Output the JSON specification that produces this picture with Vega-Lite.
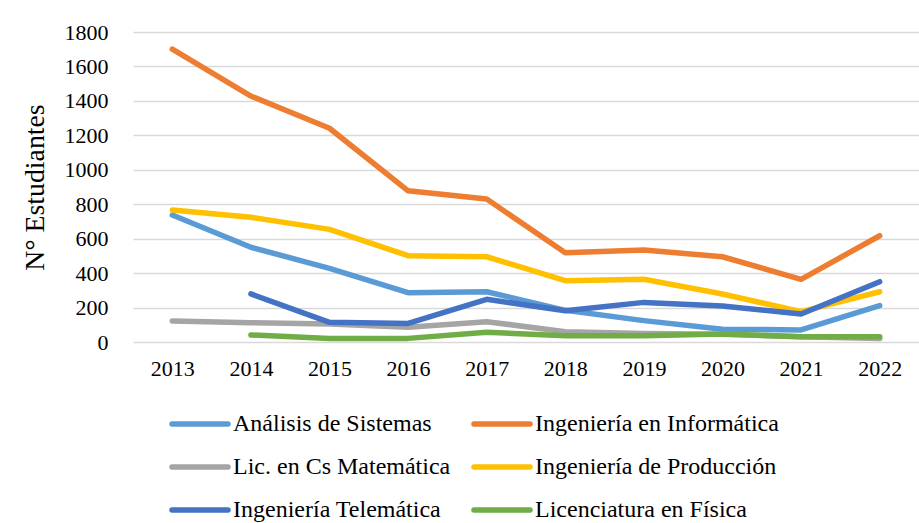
{
  "$schema": "https://vega.github.io/schema/vega-lite/v6.json",
  "autosize": {"type": "none"},
  "width": 786,
  "height": 310,
  "padding": {"left": 133, "top": 32, "right": 0, "bottom": 181},
  "background": "white",
  "config": {
    "font": "Liberation Serif",
    "view": {"stroke": null},
    "axis": {"labelFont": "Liberation Serif", "titleFont": "Liberation Serif", "labelColor": "#000", "titleColor": "#000"},
    "legend": {"labelFont": "Liberation Serif", "labelColor": "#000"}
  },
  "data": {
    "values": [
      {"year": "2013", "carrera": "Análisis de Sistemas", "n": 737},
      {"year": "2014", "carrera": "Análisis de Sistemas", "n": 550},
      {"year": "2015", "carrera": "Análisis de Sistemas", "n": 428},
      {"year": "2016", "carrera": "Análisis de Sistemas", "n": 286},
      {"year": "2017", "carrera": "Análisis de Sistemas", "n": 292},
      {"year": "2018", "carrera": "Análisis de Sistemas", "n": 184},
      {"year": "2019", "carrera": "Análisis de Sistemas", "n": 124},
      {"year": "2020", "carrera": "Análisis de Sistemas", "n": 74},
      {"year": "2021", "carrera": "Análisis de Sistemas", "n": 70},
      {"year": "2022", "carrera": "Análisis de Sistemas", "n": 211},
      {"year": "2013", "carrera": "Ingeniería en Informática", "n": 1700},
      {"year": "2014", "carrera": "Ingeniería en Informática", "n": 1428},
      {"year": "2015", "carrera": "Ingeniería en Informática", "n": 1241},
      {"year": "2016", "carrera": "Ingeniería en Informática", "n": 878},
      {"year": "2017", "carrera": "Ingeniería en Informática", "n": 830},
      {"year": "2018", "carrera": "Ingeniería en Informática", "n": 518},
      {"year": "2019", "carrera": "Ingeniería en Informática", "n": 534},
      {"year": "2020", "carrera": "Ingeniería en Informática", "n": 495},
      {"year": "2021", "carrera": "Ingeniería en Informática", "n": 364},
      {"year": "2022", "carrera": "Ingeniería en Informática", "n": 617},
      {"year": "2013", "carrera": "Lic. en Cs Matemática", "n": 122},
      {"year": "2014", "carrera": "Lic. en Cs Matemática", "n": 112},
      {"year": "2015", "carrera": "Lic. en Cs Matemática", "n": 104},
      {"year": "2016", "carrera": "Lic. en Cs Matemática", "n": 85},
      {"year": "2017", "carrera": "Lic. en Cs Matemática", "n": 118},
      {"year": "2018", "carrera": "Lic. en Cs Matemática", "n": 60},
      {"year": "2019", "carrera": "Lic. en Cs Matemática", "n": 50},
      {"year": "2020", "carrera": "Lic. en Cs Matemática", "n": 45},
      {"year": "2021", "carrera": "Lic. en Cs Matemática", "n": 31},
      {"year": "2022", "carrera": "Lic. en Cs Matemática", "n": 21},
      {"year": "2013", "carrera": "Ingeniería de Producción", "n": 766},
      {"year": "2014", "carrera": "Ingeniería de Producción", "n": 724},
      {"year": "2015", "carrera": "Ingeniería de Producción", "n": 654},
      {"year": "2016", "carrera": "Ingeniería de Producción", "n": 501},
      {"year": "2017", "carrera": "Ingeniería de Producción", "n": 495},
      {"year": "2018", "carrera": "Ingeniería de Producción", "n": 356},
      {"year": "2019", "carrera": "Ingeniería de Producción", "n": 364},
      {"year": "2020", "carrera": "Ingeniería de Producción", "n": 279},
      {"year": "2021", "carrera": "Ingeniería de Producción", "n": 176},
      {"year": "2022", "carrera": "Ingeniería de Producción", "n": 292},
      {"year": "2014", "carrera": "Ingeniería Telemática", "n": 279},
      {"year": "2015", "carrera": "Ingeniería Telemática", "n": 114},
      {"year": "2016", "carrera": "Ingeniería Telemática", "n": 108},
      {"year": "2017", "carrera": "Ingeniería Telemática", "n": 248},
      {"year": "2018", "carrera": "Ingeniería Telemática", "n": 182},
      {"year": "2019", "carrera": "Ingeniería Telemática", "n": 230},
      {"year": "2020", "carrera": "Ingeniería Telemática", "n": 209},
      {"year": "2021", "carrera": "Ingeniería Telemática", "n": 163},
      {"year": "2022", "carrera": "Ingeniería Telemática", "n": 350},
      {"year": "2014", "carrera": "Licenciatura en Física", "n": 41},
      {"year": "2015", "carrera": "Licenciatura en Física", "n": 21},
      {"year": "2016", "carrera": "Licenciatura en Física", "n": 21},
      {"year": "2017", "carrera": "Licenciatura en Física", "n": 56},
      {"year": "2018", "carrera": "Licenciatura en Física", "n": 37},
      {"year": "2019", "carrera": "Licenciatura en Física", "n": 37},
      {"year": "2020", "carrera": "Licenciatura en Física", "n": 46},
      {"year": "2021", "carrera": "Licenciatura en Física", "n": 31},
      {"year": "2022", "carrera": "Licenciatura en Física", "n": 31}
    ]
  },
  "mark": {"type": "line", "strokeWidth": 5.5, "strokeCap": "round", "strokeJoin": "round"},
  "encoding": {
    "x": {
      "field": "year", "type": "ordinal",
      "scale": {"type": "point", "padding": 0.5},
      "axis": {"title": null, "labelAngle": 0, "labelFont": "Liberation Serif", "labelFontSize": 22, "ticks": false, "domain": false, "grid": false, "labelPadding": 16, "labelBaseline": "top"}
    },
    "y": {
      "field": "n", "type": "quantitative",
      "scale": {"domain": [0, 1800], "nice": false},
      "axis": {"title": "N° Estudiantes", "titleFont": "Liberation Serif", "titleFontSize": 27.8, "titleFontWeight": "normal", "titlePadding": 15, "format": "d", "values": [0, 200, 400, 600, 800, 1000, 1200, 1400, 1600, 1800], "labelFont": "Liberation Serif", "labelFontSize": 22, "ticks": false, "domain": false, "labelPadding": 25, "gridColor": "#D9D9D9", "gridWidth": 1.5}
    },
    "color": {
      "field": "carrera", "type": "nominal",
      "scale": {
        "domain": ["Análisis de Sistemas", "Lic. en Cs Matemática", "Ingeniería Telemática", "Ingeniería en Informática", "Ingeniería de Producción", "Licenciatura en Física"],
        "range": ["#5B9BD5", "#A5A5A5", "#4472C4", "#ED7D31", "#FFC000", "#70AD47"]
      },
      "legend": {
        "title": null, "orient": "none", "legendX": 36, "legendY": 361,
        "columns": 2, "columnPadding": 12, "rowPadding": -3,
        "symbolType": "stroke", "symbolSize": 3136, "symbolStrokeWidth": 5.5,
        "labelFont": "Liberation Serif", "labelFontSize": 24, "labelOffset": 2, "labelLimit": 400,
        "encode": {"symbols": {"update": {"strokeCap": {"value": "round"}}}}
      }
    }
  }
}
